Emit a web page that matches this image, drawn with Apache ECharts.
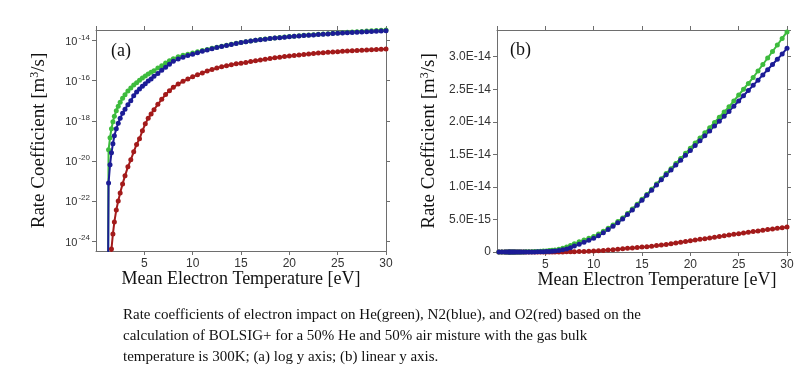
<!DOCTYPE html>
<html>
<head>
<meta charset="utf-8">
<script src="https://cdn.jsdelivr.net/npm/echarts@6/dist/echarts.min.js"></script>
<style>
  html, body { margin: 0; padding: 0; background: #fff; }
  #chart { width: 800px; height: 375px; }
</style>
</head>
<body>
<div id="chart"></div>
<script>
// mean electron temperature [eV]
const tempEv = [
  0.2, 0.5, 0.8, 1.0, 1.2, 1.3, 1.45, 1.6, 1.75, 1.9,
  2.1, 2.3, 2.5, 2.75, 3.0, 3.3, 3.6, 3.9, 4.2, 4.5,
  4.8, 5.1, 5.4, 5.7, 6.0, 6.4, 6.8, 7.2, 7.6, 8.0,
  8.5, 9.0, 9.5,
  10, 10.5, 11, 11.5, 12, 12.5, 13, 13.5, 14, 14.5,
  15, 15.5, 16, 16.5, 17, 17.5, 18, 18.5, 19, 19.5,
  20, 20.5, 21, 21.5, 22, 22.5, 23, 23.5, 24, 24.5,
  25, 25.5, 26, 26.5, 27, 27.5, 28, 28.5, 29, 29.5,
  30
];

// He (green)
const heRate = [
  1e-30, 1e-30, 1e-30, 1e-30, 1e-30, 3.55e-20, 1.41e-19, 3.98e-19, 8.91e-19, 1.66e-18,
  3.16e-18, 5.37e-18, 8.32e-18, 1.32e-17, 2.0e-17, 3.02e-17, 4.37e-17, 6.03e-17, 7.94e-17, 1.05e-16,
  1.35e-16, 1.70e-16, 2.14e-16, 2.63e-16, 3.16e-16, 4.27e-16, 5.62e-16, 7.59e-16, 1.0e-15, 1.26e-15,
  1.58e-15, 1.86e-15, 2.1e-15,
  2.38e-15, 2.75e-15, 3.18e-15, 3.65e-15, 4.15e-15, 4.68e-15, 5.22e-15, 5.9e-15, 6.6e-15, 7.35e-15,
  8.1e-15, 8.85e-15, 9.65e-15, 10.45e-15, 11.25e-15, 12.05e-15, 12.8e-15, 13.6e-15, 14.35e-15, 15.15e-15,
  15.95e-15, 16.75e-15, 17.5e-15, 18.3e-15, 19.1e-15, 19.9e-15, 20.7e-15, 21.5e-15, 22.3e-15, 23.2e-15,
  24.1e-15, 25.0e-15, 25.9e-15, 26.8e-15, 27.8e-15, 28.8e-15, 29.8e-15, 30.8e-15, 31.8e-15, 32.8e-15,
  33.8e-15
];

// N2 (blue)
const n2Rate = [
  1e-30, 1e-30, 1e-30, 1e-30, 1e-30, 7.94e-22, 6.31e-21, 2.51e-20, 7.08e-20, 1.78e-19,
  3.98e-19, 7.59e-19, 1.32e-18, 2.34e-18, 3.80e-18, 6.31e-18, 1.0e-17, 1.78e-17, 2.69e-17, 3.8e-17,
  5.25e-17, 7.08e-17, 9.55e-17, 1.23e-16, 1.66e-16, 2.3e-16, 3.3e-16, 4.7e-16, 6.6e-16, 9.3e-16,
  1.2e-15, 1.5e-15, 1.8e-15,
  2.1e-15, 2.5e-15, 2.95e-15, 3.45e-15, 3.95e-15, 4.5e-15, 5.05e-15, 5.75e-15, 6.45e-15, 7.2e-15,
  7.95e-15, 8.7e-15, 9.5e-15, 10.3e-15, 11.1e-15, 11.85e-15, 12.6e-15, 13.35e-15, 14.1e-15, 14.85e-15,
  15.6e-15, 16.35e-15, 17.1e-15, 17.85e-15, 18.6e-15, 19.35e-15, 20.1e-15, 20.85e-15, 21.6e-15, 22.4e-15,
  23.2e-15, 24.0e-15, 24.8e-15, 25.6e-15, 26.4e-15, 27.2e-15, 28.0e-15, 28.8e-15, 29.6e-15, 30.4e-15,
  31.3e-15
];

// O2 (red)
const o2Rate = [
  1e-30, 1e-30, 1e-30, 1e-30, 1e-30, 1e-30, 1e-30, 3.98e-25, 2.24e-24, 8.91e-24,
  3.55e-23, 1.0e-22, 2.51e-22, 7.08e-22, 1.78e-21, 5.01e-21, 1.12e-20, 2.82e-20, 6.61e-20, 1.26e-19,
  3.16e-19, 7.08e-19, 1.32e-18, 2.19e-18, 3.55e-18, 6.61e-18, 1.17e-17, 2.04e-17, 3.16e-17, 4.68e-17,
  6.76e-17, 9.33e-17, 1.20e-16,
  1.58e-16, 2.0e-16, 2.45e-16, 3.02e-16, 3.63e-16, 4.27e-16, 4.9e-16, 5.62e-16, 6.31e-16, 6.92e-16,
  7.5e-16, 8.2e-16, 9.0e-16, 9.8e-16, 10.7e-16, 11.6e-16, 12.7e-16, 13.8e-16, 14.9e-16, 16.0e-16,
  17.2e-16, 18.3e-16, 19.4e-16, 20.5e-16, 21.6e-16, 22.7e-16, 23.8e-16, 24.9e-16, 26.0e-16, 27.1e-16,
  28.2e-16, 29.3e-16, 30.4e-16, 31.4e-16, 32.4e-16, 33.4e-16, 34.4e-16, 35.4e-16, 36.4e-16, 37.4e-16,
  38.4e-16
];

// exponents shown on the log panel
const logTicks = [-24, -22, -20, -18, -16, -14];

const caption = [
  'Rate coefficients of electron impact on He(green), N2(blue), and O2(red) based on the',
  'calculation of BOLSIG+ for a 50% He and 50% air misture with the gas bulk',
  'temperature is 300K; (a) log y axis; (b) linear y axis.'
];

const colors = { he: '#3dbb3d', n2: '#1c1c96', o2: '#a31a1a' };
const serif = '"Liberation Serif", "DejaVu Serif", serif';
const sans = '"Liberation Sans", Arial, sans-serif';
const frameColor = '#6e6e6e';

const chart = echarts.init(document.getElementById('chart'), null, { renderer: 'canvas' });

function logPairs(rates) { return tempEv.map((t, i) => [t, Math.log10(rates[i])]); }
function linPairs(rates) { return tempEv.map((t, i) => [t, rates[i]]); }

const axisLine = { onZero: false, lineStyle: { color: frameColor, width: 1 } };
const axisTick = { show: true, inside: false, length: 4, lineStyle: { color: frameColor } };
const tickText = { fontFamily: sans, fontSize: 12, color: '#333' };

function xAxisFor(grid, top, extra) {
  return Object.assign({
    type: 'value', gridIndex: grid, position: top ? 'top' : 'bottom',
    min: 0, max: 30, interval: 5,
    axisLine, axisTick, splitLine: { show: false },
    axisLabel: top ? { show: false } : Object.assign({ margin: 7, showMinLabel: false }, tickText)
  }, extra || {});
}

const yNameText = {
  fontFamily: serif, fontSize: 19, color: '#111',
  rich: { s: { fontFamily: serif, fontSize: 12, color: '#111', verticalAlign: 'bottom', padding: [0, 0, 9, 0] } }
};
const yName = 'Rate Coefficient [m{s|3}/s]';
const xName = 'Mean Electron Temperature [eV]';

function lineSeries(name, data, color, xi, yi) {
  return {
    name, type: 'line', data, xAxisIndex: xi, yAxisIndex: yi,
    symbol: 'circle', symbolSize: 5, showSymbol: true,
    lineStyle: { color, width: 2 }, itemStyle: { color },
    emphasis: { disabled: true }, animation: false, z: 3
  };
}

const option = {
  backgroundColor: '#fff',
  animation: false,
  grid: [
    { left: 96, top: 30, width: 290, height: 221 },
    { left: 497, top: 30, width: 290, height: 222 }
  ],
  xAxis: [
    xAxisFor(0, false, {
      name: xName, nameLocation: 'middle', nameGap: 19, nameMoveOverlap: false,
      nameTextStyle: { fontFamily: serif, fontSize: 18, color: '#111' }
    }),
    xAxisFor(0, true),
    xAxisFor(1, false, {
      name: xName, nameLocation: 'middle', nameGap: 19, nameMoveOverlap: false,
      nameTextStyle: { fontFamily: serif, fontSize: 18, color: '#111', padding: [0, 0, 0, 30] }
    }),
    xAxisFor(1, true)
  ],
  yAxis: [
    {
      type: 'value', gridIndex: 0, position: 'left', min: -24.5, max: -13.47,
      axisLine, splitLine: { show: false },
      axisTick: Object.assign({ customValues: logTicks }, axisTick),
      axisLabel: {
        customValues: logTicks, margin: 6,
        formatter: v => '{b|10}{s|' + v + '}',
        rich: {
          b: { fontFamily: sans, fontSize: 11, color: '#333', verticalAlign: 'bottom' },
          s: { fontFamily: sans, fontSize: 8, color: '#333', verticalAlign: 'bottom', padding: [0, 0, 6, 1] }
        }
      },
      name: yName, nameLocation: 'middle', nameRotate: 90, nameGap: 46, nameTextStyle: yNameText
    },
    {
      type: 'value', gridIndex: 0, position: 'right', min: -24.5, max: -13.47,
      axisLine, splitLine: { show: false },
      axisTick: Object.assign({ customValues: logTicks }, axisTick),
      axisLabel: { show: false }
    },
    {
      type: 'value', gridIndex: 1, position: 'left', min: 0, max: 3.41e-14, interval: 5e-15,
      axisLine, axisTick, splitLine: { show: false },
      axisLabel: Object.assign({
        margin: 6, showMaxLabel: false,
        formatter: v => v === 0 ? '0' : v.toExponential(1).toUpperCase()
      }, tickText),
      name: yName, nameLocation: 'middle', nameRotate: 90, nameGap: 57, nameTextStyle: yNameText
    },
    {
      type: 'value', gridIndex: 1, position: 'right', min: 0, max: 3.41e-14, interval: 5e-15,
      axisLine, axisTick, splitLine: { show: false },
      axisLabel: { show: false }
    }
  ],
  series: [
    lineSeries('O2', logPairs(o2Rate), colors.o2, 0, 0),
    lineSeries('He', logPairs(heRate), colors.he, 0, 0),
    lineSeries('N2', logPairs(n2Rate), colors.n2, 0, 0),
    lineSeries('O2', linPairs(o2Rate), colors.o2, 2, 2),
    lineSeries('He', linPairs(heRate), colors.he, 2, 2),
    lineSeries('N2', linPairs(n2Rate), colors.n2, 2, 2)
  ],
  graphic: [
    { type: 'text', left: 111, top: 42, style: { text: '(a)', font: '18px ' + serif, fill: '#111' } },
    { type: 'text', left: 510, top: 41, style: { text: '(b)', font: '18px ' + serif, fill: '#111' } },
    {
      type: 'text', left: 123, top: 305,
      style: { text: caption.join('\n'), font: '15px ' + serif, lineHeight: 21, fill: '#111' }
    }
  ]
};

chart.setOption(option);
</script>
</body>
</html>
